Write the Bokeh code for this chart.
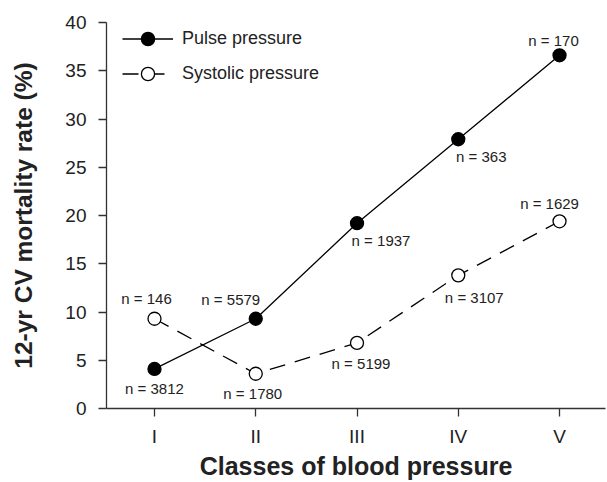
import numpy as np
from bokeh.plotting import figure
from bokeh.models import Legend, LegendItem, FixedTicker, Range1d, ColumnDataSource
from bokeh.core.properties import value
from bokeh.embed import file_html
from bokeh.resources import INLINE

# ---- data ----
classes = ["I", "II", "III", "IV", "V"]
pulse_rate = [4.1, 9.3, 19.2, 27.9, 36.6]
systolic_rate = [9.3, 3.6, 6.8, 13.8, 19.4]
pulse_n = [3812, 5579, 1937, 363, 170]
systolic_n = [146, 1780, 5199, 3107, 1629]
y_ticks = [0, 5, 10, 15, 20, 25, 30, 35, 40]

# label offsets in screen pixels (layout only)
pulse_dx = [0, -25, 24, 23, -6]
pulse_dy = [20, -19, 17, 17, -15]
sys_dx = [-8, -3, 4, 16, -10]
sys_dy = [-20, 20, 21, 22, -18]

FONT = "Liberation Sans"
TXT = "#222222"

x = list(range(1, len(classes) + 1))

src_p = ColumnDataSource(dict(x=x, y=pulse_rate, lab=[f"n = {n}" for n in pulse_n], dx=pulse_dx, dy=pulse_dy))
src_s = ColumnDataSource(dict(x=x, y=systolic_rate, lab=[f"n = {n}" for n in systolic_n], dx=sys_dx, dy=sys_dy))

p = figure(width=607, height=482, output_backend="svg", toolbar_location=None,
           x_range=Range1d(0.526, 5.454), y_range=Range1d(0, 40),
           min_border_left=106, min_border_top=22, min_border_right=2, min_border_bottom=74)
p.grid.visible = False
p.outline_line_color = None
p.background_fill_color = "white"

# axes
for ax in (p.xaxis[0], p.yaxis[0]):
    ax.axis_line_color = "#333333"
    ax.axis_line_width = 1.3
    ax.major_tick_line_color = "#333333"
    ax.major_tick_line_width = 1.3
    ax.major_tick_out = 8
    ax.major_tick_in = 0
    ax.minor_tick_line_color = None
    ax.major_label_text_font = FONT
    ax.major_label_text_font_size = "19px"
    ax.major_label_text_color = TXT
    ax.axis_label_text_font = FONT
    ax.axis_label_text_font_style = "bold"
    ax.axis_label_text_color = TXT

p.xaxis.ticker = FixedTicker(ticks=x)
p.xaxis.major_label_overrides = {xi: c for xi, c in zip(x, classes)}
p.xaxis.major_label_standoff = 9
p.xaxis.axis_label = "Classes of blood pressure"
p.xaxis.axis_label_text_font_size = "25px"
p.xaxis.axis_label_standoff = 2

p.yaxis.ticker = FixedTicker(ticks=y_ticks)
p.yaxis.major_label_standoff = 12
p.yaxis.axis_label = "12-yr CV mortality rate (%)"
p.yaxis.axis_label_text_font_size = "24.5px"
p.yaxis.axis_label_standoff = 25

# series
sl = p.line("x", "y", source=src_s, line_color="black", line_width=1.3, line_dash="16 10")
pl = p.line("x", "y", source=src_p, line_color="black", line_width=1.3)
ss = p.scatter("x", "y", source=src_s, size=13, fill_color="white", line_color="black", line_width=1.3)
ps = p.scatter("x", "y", source=src_p, size=13, fill_color="black", line_color="black", line_width=1.3)

for src in (src_p, src_s):
    p.text("x", "y", text="lab", source=src, x_offset="dx", y_offset="dy",
           text_align="center", text_baseline="middle",
           text_font=value(FONT), text_font_size="15px", text_color=TXT)

legend = Legend(items=[LegendItem(label="Pulse pressure", renderers=[pl, ps]),
                       LegendItem(label="Systolic pressure", renderers=[sl, ss])],
                location=(16, 318), glyph_width=51, glyph_height=33, spacing=2,
                label_standoff=9, label_text_font=FONT, label_text_font_size="18px",
                label_text_color=TXT, padding=0, margin=0,
                border_line_color=None, background_fill_alpha=0)
p.add_layout(legend)

open("out.html", "w").write(file_html(p, INLINE))
